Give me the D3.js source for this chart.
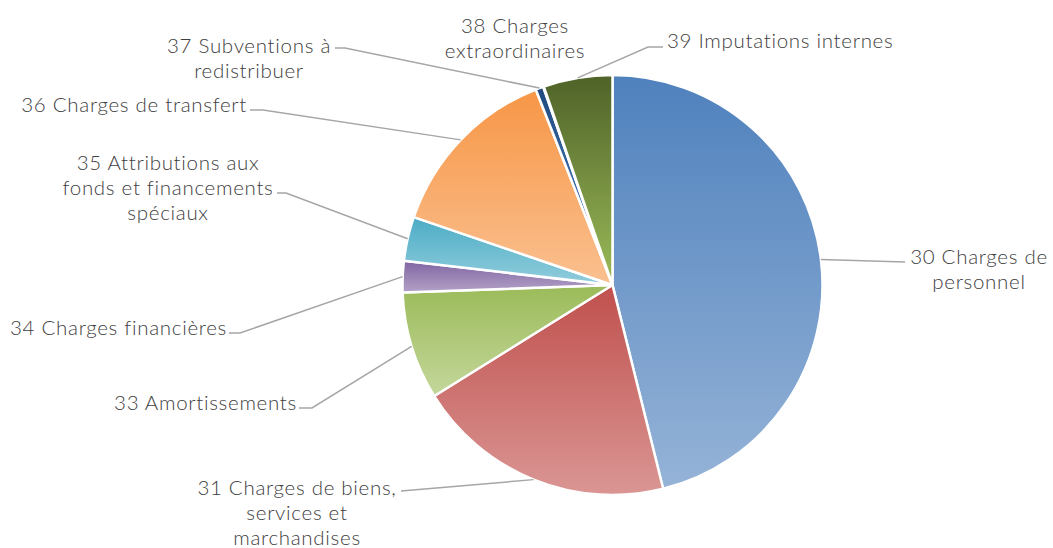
<!DOCTYPE html>
<html>
<head>
	<script src="https://cdn.jsdelivr.net/npm/d3@7"></script>
	<style>
		html, body {
			padding: 0;
			margin: 0;
			background: #fff;
		}
		text {
			font-family: Lato, "Open Sans", sans-serif;
			font-weight: 300;
			font-size: 20.5px;
			letter-spacing: 0.7px;
			fill: #404040;
		}
	</style>
</head>
<body>
	<script>
		var width = 1053, height = 548;

		// data (share of total, %)
		var categories = ["30 Charges de personnel", "31 Charges de biens, services et marchandises",
			"33 Amortissements", "34 Charges financières", "35 Attributions aux fonds et financements spéciaux",
			"36 Charges de transfert", "37 Subventions à redistribuer", "38 Charges extraordinaires",
			"39 Imputations internes"];
		var values = [46.1, 20.0, 8.3, 2.4, 3.4, 13.8, 0.6, 0.05, 5.3];
		var labelLines = [
			["30 Charges de", "personnel"],
			["31 Charges de biens,", "services et", "marchandises"],
			["33 Amortissements"],
			["34 Charges financières"],
			["35 Attributions aux", "fonds et financements", "spéciaux"],
			["36 Charges de transfert"],
			["37 Subventions à", "redistribuer"],
			["38 Charges", "extraordinaires"],
			["39 Imputations internes"]
		];
		var topColors = ["#4f81bd", "#c0504d", "#9bbb59", "#8064a2", "#4bacc6", "#f79646", "#1f497d", "#7f7f7f", "#4f6228"];
		var bottomColors = ["#95b3d7", "#da9694", "#c4d79b", "#b3a2c7", "#92cddc", "#fac090", "#558ed5", "#bfbfbf", "#9bbb59"];

		// label placement: text x, first baseline, anchor, leader points (elbow, end)
		var labelPos = [
			{x: 979, y: 264, anchor: "middle", leader: [[905, 262]]},
			{x: 297, y: 495, anchor: "middle", leader: [[401, 491]]},
			{x: 297, y: 410, anchor: "end", leader: [[312, 408], [299, 408]]},
			{x: 227, y: 335, anchor: "end", leader: [[240, 333], [229, 333]]},
			{x: 168, y: 170, anchor: "middle", leader: [[286, 193], [277, 193]]},
			{x: 247, y: 112, anchor: "end", leader: [[263, 110], [250, 110]]},
			{x: 249, y: 53, anchor: "middle", leader: [[345, 48], [335, 48]]},
			{x: 515, y: 33, anchor: "middle", leader: null},
			{x: 667, y: 48, anchor: "start", leader: [[648, 47], [663, 47]]}
		];

		var cx = 612.5, cy = 285, radius = 210;

		var svg = d3.select("body").append("svg")
			.attr("width", width)
			.attr("height", height);

		var defs = svg.append("defs");
		categories.forEach(function(c, i) {
			var g = defs.append("linearGradient")
				.attr("id", "grad" + i)
				.attr("x1", 0).attr("y1", 0)
				.attr("x2", 0).attr("y2", 1);
			g.append("stop").attr("offset", "0%").attr("stop-color", topColors[i]);
			g.append("stop").attr("offset", "100%").attr("stop-color", bottomColors[i]);
		});

		var pie = d3.pie().sort(null).value(function(d) { return d; });
		var arcs = pie(values);
		var arc = d3.arc().innerRadius(0).outerRadius(radius);

		var g = svg.append("g").attr("transform", "translate(" + cx + "," + cy + ")");

		g.selectAll("path.slice")
			.data(arcs)
			.enter().append("path")
			.attr("class", "slice")
			.attr("d", arc)
			.attr("fill", function(d, i) { return "url(#grad" + i + ")"; })
			.attr("stroke", "#fff")
			.attr("stroke-width", 2.5)
			.attr("stroke-linejoin", "round");

		// leader lines
		var line = d3.line();
		arcs.forEach(function(d, i) {
			var p = labelPos[i];
			if (!p.leader) return;
			var a = (d.startAngle + d.endAngle) / 2;
			var start = [cx + radius * Math.sin(a), cy - radius * Math.cos(a)];
			svg.append("path")
				.attr("d", line([start].concat(p.leader)))
				.attr("fill", "none")
				.attr("stroke", "#a6a6a6")
				.attr("stroke-width", 1.5);
		});

		// labels
		labelLines.forEach(function(lines, i) {
			var p = labelPos[i];
			var t = svg.append("text")
				.attr("text-anchor", p.anchor);
			lines.forEach(function(l, j) {
				t.append("tspan")
					.attr("x", p.x)
					.attr("y", p.y + j * 25)
					.text(l);
			});
		});
	</script>
</body>
</html>
